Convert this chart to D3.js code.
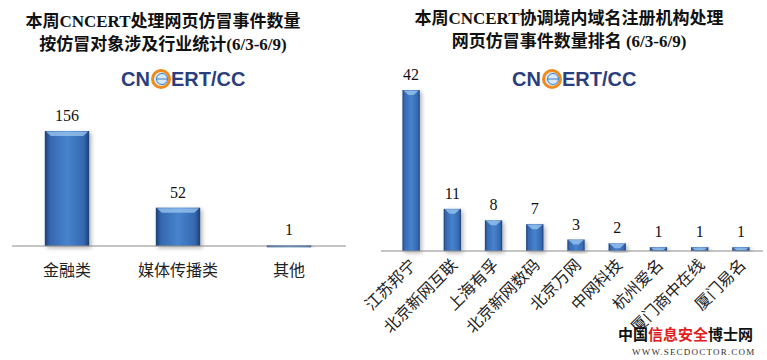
<!DOCTYPE html>
<html>
<head>
<meta charset="utf-8">
<script src="https://cdn.jsdelivr.net/npm/d3@7"></script>
<style>
  body { margin: 0; background: #fff; }
  svg { display: block; }
  .title { font-family: "Liberation Serif", "Noto Sans CJK SC", serif; font-weight: bold; font-size: 17px; fill: #111; }
  .val { font-family: "Liberation Serif", serif; font-size: 16px; fill: #111; }
  .cat { font-family: "Noto Sans CJK SC", sans-serif; font-size: 16px; fill: #222; }
</style>
</head>
<body>
<div id="chart"></div>
<script>
// data
var leftCats = ["金融类", "媒体传播类", "其他"];
var leftVals = [156, 52, 1];
var rightCats = ["江苏邦宁", "北京新网互联", "上海有孚", "北京新网数码", "北京万网", "中网科技", "杭州爱名", "厦门商中在线", "厦门易名"];
var rightVals = [42, 11, 8, 7, 3, 2, 1, 1, 1];

var svg = d3.select("#chart").append("svg")
    .attr("width", 767)
    .attr("height", 360);

// bar gradient
var defs = svg.append("defs");
var grad = defs.append("linearGradient").attr("id", "barGrad")
    .attr("x1", 0).attr("x2", 1).attr("y1", 0).attr("y2", 0);
grad.append("stop").attr("offset", "0%").attr("stop-color", "#1c3f75");
grad.append("stop").attr("offset", "12%").attr("stop-color", "#3568b0");
grad.append("stop").attr("offset", "50%").attr("stop-color", "#4783cd");
grad.append("stop").attr("offset", "88%").attr("stop-color", "#3568b0");
grad.append("stop").attr("offset", "100%").attr("stop-color", "#1c3f75");

var shadow = defs.append("filter").attr("id", "shadow")
    .attr("x", "-30%").attr("y", "-10%").attr("width", "160%").attr("height", "130%");
shadow.append("feDropShadow").attr("dx", 2).attr("dy", 2).attr("stdDeviation", 2)
    .attr("flood-color", "#000").attr("flood-opacity", 0.3);

function drawLogo(g, x, y) {
    var logo = g.append("g").attr("transform", `translate(${x}, ${y})`);
    logo.append("text").attr("x", 0).attr("y", 0)
        .attr("font-family", "Liberation Sans, Arial, sans-serif")
        .attr("font-weight", "bold").attr("font-size", 20)
        .attr("fill", "#2c3e7c").text("CN");
    logo.append("circle").attr("cx", 40).attr("cy", -7).attr("r", 8.5)
        .attr("fill", "#d7e8f6").attr("stroke", "#f08a1c").attr("stroke-width", 3);
    logo.append("circle").attr("cx", 41).attr("cy", -7).attr("r", 5.5)
        .attr("fill", "none").attr("stroke", "#3d7fc1").attr("stroke-width", 1);
    logo.append("line").attr("x1", 35.5).attr("x2", 46.5).attr("y1", -7).attr("y2", -7)
        .attr("stroke", "#3d7fc1").attr("stroke-width", 1);
    logo.append("text").attr("x", 50).attr("y", 0)
        .attr("font-family", "Liberation Sans, Arial, sans-serif")
        .attr("font-weight", "bold").attr("font-size", 20)
        .attr("fill", "#2c3e7c").text("ERT/CC");
}

function drawBars(g, cats, vals, opt) {
    var x = d3.scaleBand().domain(cats).range(opt.xRange)
        .paddingInner(opt.pad).paddingOuter(opt.pad / 2);
    var y = d3.scaleLinear().domain([0, d3.max(vals)]).range([opt.base, opt.top]);
    var data = cats.map((c, i) => ({cat: c, val: vals[i]}));

    var bars = g.selectAll(".bar").data(data).enter().append("g");
    bars.append("rect")
        .attr("x", d => x(d.cat))
        .attr("y", d => y(d.val))
        .attr("width", x.bandwidth())
        .attr("height", d => Math.max(2, opt.base - y(d.val)))
        .attr("fill", "url(#barGrad)")
        .attr("filter", "url(#shadow)");
    // bevelled top edge
    bars.append("path")
        .attr("d", function(d) {
            var x0 = x(d.cat), w = x.bandwidth(), t = y(d.val);
            var b = Math.min(w / 2 - 2, 5, Math.max(1, opt.base - t - 1));
            return `M${x0 + 1},${t + 0.5}L${x0 + w - 1},${t + 0.5}L${x0 + w - 1 - b},${t + b}L${x0 + 1 + b},${t + b}Z`;
        })
        .attr("fill", "#9cc8f2").attr("opacity", 0.75);

    g.append("line")
        .attr("x1", opt.axis[0]).attr("x2", opt.axis[1])
        .attr("y1", opt.base).attr("y2", opt.base)
        .attr("stroke", "#8c8c8c").attr("stroke-width", 1.2);

    g.selectAll(".val").data(data).enter().append("text")
        .attr("class", "val")
        .attr("x", d => x(d.cat) + x.bandwidth() / 2)
        .attr("y", d => y(d.val) - 10)
        .attr("text-anchor", "middle")
        .text(d => d.val);
    return x;
}

// left chart
var left = svg.append("g");
left.append("text").attr("class", "title").attr("x", 163).attr("y", 27)
    .attr("text-anchor", "middle").text("本周CNCERT处理网页仿冒事件数量");
left.append("text").attr("class", "title").attr("x", 163).attr("y", 50)
    .attr("text-anchor", "middle").text("按仿冒对象涉及行业统计(6/3-6/9)");
drawLogo(left, 121, 86);
var xl = drawBars(left, leftCats, leftVals,
    {xRange: [11.5, 344.5], pad: 0.6, base: 246, top: 131, axis: [12, 346]});
left.selectAll(".cat").data(leftCats).enter().append("text")
    .attr("class", "cat")
    .attr("x", d => xl(d) + xl.bandwidth() / 2)
    .attr("y", 276)
    .attr("text-anchor", "middle")
    .attr("font-size", 17)
    .text(d => d);

// right chart
var right = svg.append("g");
right.append("text").attr("class", "title").attr("x", 569).attr("y", 24)
    .attr("text-anchor", "middle").text("本周CNCERT协调境内域名注册机构处理");
right.append("text").attr("class", "title").attr("x", 569).attr("y", 47)
    .attr("text-anchor", "middle").text("网页仿冒事件数量排名 (6/3-6/9)");
drawLogo(right, 512, 86);
var xr = drawBars(right, rightCats, rightVals,
    {xRange: [390.5, 761.5], pad: 0.58, base: 251, top: 90, axis: [381, 763]});
right.selectAll(".cat").data(rightCats).enter().append("text")
    .attr("class", "cat")
    .attr("text-anchor", "end")
    .attr("font-size", 17)
    .attr("transform", d => `translate(${xr(d) + xr.bandwidth() / 2 + 6}, ${266}) rotate(-45)`)
    .text(d => d);

// watermark
var wm = svg.append("g").attr("transform", "translate(618, 340)");
var wt = wm.append("text")
    .attr("font-family", "Noto Sans CJK SC, sans-serif")
    .attr("font-weight", "bold").attr("font-size", 15).attr("x", 0).attr("y", 0);
wt.append("tspan").attr("fill", "#111").text("中国");
wt.append("tspan").attr("fill", "#e0201c").text("信息安全");
wt.append("tspan").attr("fill", "#111").text("博士网");
wm.append("text").attr("x", 14).attr("y", 15)
    .attr("font-family", "Liberation Serif, serif")
    .attr("font-size", 9).attr("letter-spacing", 1.2).attr("fill", "#333")
    .text("WWW.SECDOCTOR.COM");
</script>
</body>
</html>
